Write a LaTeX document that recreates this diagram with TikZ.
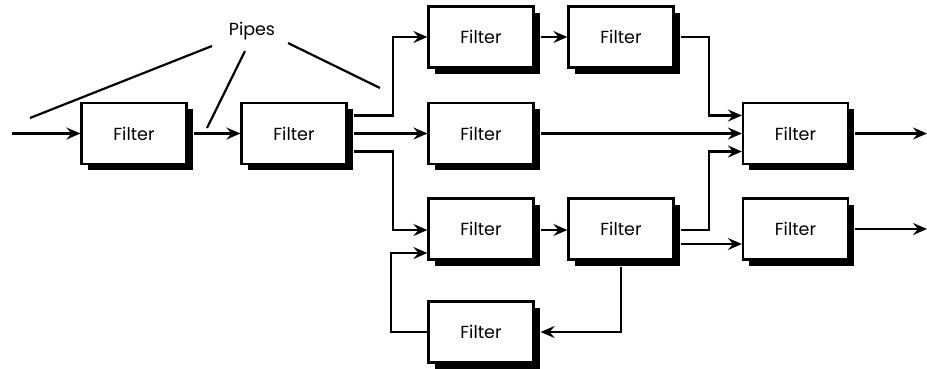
\documentclass[tikz,border=0pt]{standalone}
\usepackage{fontspec}
\setmainfont{Poppins}
\usetikzlibrary{arrows.meta,shadows}
\begin{document}
\begin{tikzpicture}[x=1pt,y=-1pt,
  filterbox/.style={draw=black,line width=2.2pt,fill=white,minimum width=105pt,minimum height=61pt,inner sep=0pt,
    font=\fontsize{17.5}{20}\selectfont,
    drop shadow={shadow xshift=6pt,shadow yshift=-6pt,opacity=1,fill=black}},
  arr/.style={line width=2.2pt,-{Stealth[length=14pt,width=12pt,inset=5pt]}},
  pipe/.style={line width=2.2pt}]
\useasboundingbox (0,0) rectangle (927,368);
\node[filterbox] (F1) at (134,133.5) {Filter};
\node[filterbox] (F2) at (294,133.5) {Filter};
\node[filterbox] (F3) at (481,37) {Filter};
\node[filterbox] (F4) at (621,37) {Filter};
\node[filterbox] (F5) at (481,133.5) {Filter};
\node[filterbox] (F6) at (481,229) {Filter};
\node[filterbox] (F7) at (621,229) {Filter};
\node[filterbox] (F8) at (481,332) {Filter};
\node[filterbox] (F9) at (795.5,133.5) {Filter};
\node[filterbox] (F10) at (795.5,229) {Filter};
\node[font=\fontsize{17.5}{20}\selectfont] (pipes) at (252,31) {Pipes};
\coordinate (in) at (12,133.5);
\coordinate (out1) at (927,133.5);
\coordinate (out2) at (927,229);
\coordinate (pa) at (212,46);
\coordinate (pb) at (245,51);
\coordinate (pc) at (288,43);
\coordinate (p1) at (30,118);
\coordinate (p2) at (207,128);
\coordinate (p3) at (380,88);
\draw[pipe] (pa) -- (p1);
\draw[pipe] (pb) -- (p2);
\draw[pipe] (pc) -- (p3);
\draw[arr] (in) -- (F1.west);
\draw[arr] ([shift={(6,0)}]F1.east) -- (F2.west);
\draw[arr] ([shift={(6,-18)}]F2.east) -- ++(39.5,0) |- (F3.west);
\draw[arr] ([shift={(6,0)}]F2.east) -- (F5.west);
\draw[arr] ([shift={(6,18)}]F2.east) -- ++(39.5,0) |- ([shift={(0,1)}]F6.west);
\draw[arr] (F8.west) -- ++(-36.5,0) |- ([shift={(0,24)}]F6.west);
\draw[arr] ([shift={(6,0)}]F3.east) -- (F4.west);
\draw[arr] ([shift={(6,1)}]F6.east) -- ([shift={(0,1)}]F7.west);
\draw[arr] ([shift={(6,0)}]F4.east) -- ++(28.5,0) |- ([shift={(0,-18)}]F9.west);
\draw[arr] ([shift={(6,0)}]F5.east) -- (F9.west);
\draw[arr] ([shift={(6,1)}]F7.east) -- ++(28.5,0) |- ([shift={(0,18)}]F9.west);
\draw[arr] ([shift={(6,15)}]F7.east) -- ([shift={(0,15)}]F10.west);
\draw[arr] ([shift={(0,6)}]F7.south) |- ([shift={(6,0)}]F8.east);
\draw[arr] ([shift={(6,0)}]F9.east) -- (out1);
\draw[arr] ([shift={(6,0)}]F10.east) -- (out2);
\end{tikzpicture}
\end{document}
